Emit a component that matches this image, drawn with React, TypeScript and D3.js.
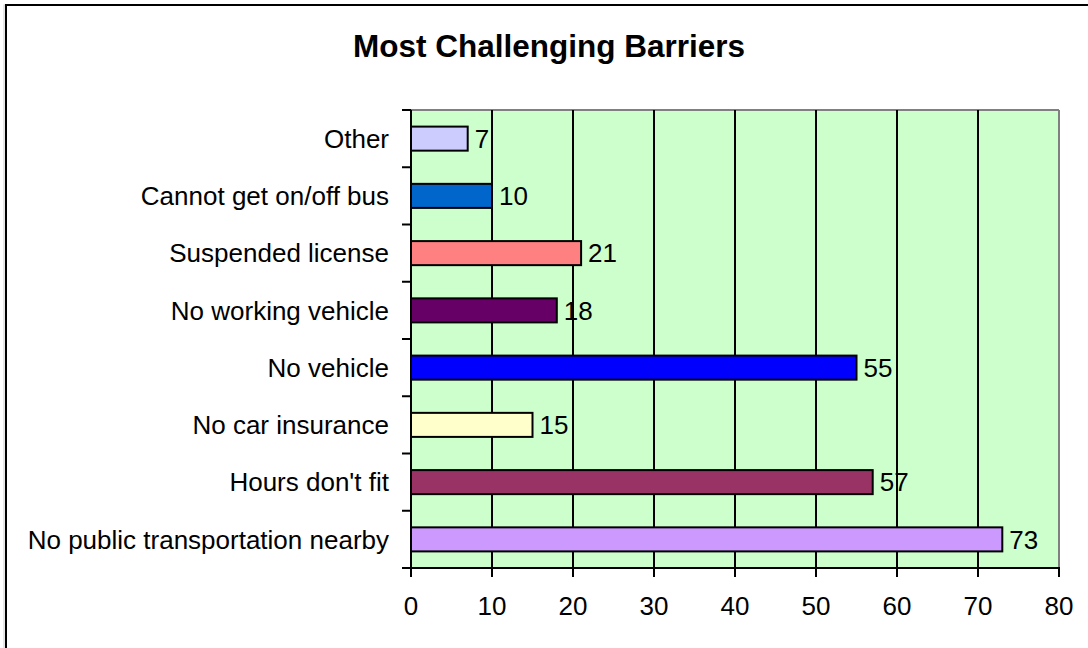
import React from "react";
import * as d3 from "d3";

// chart data, bottom to top as drawn
const categories = [
  "No public transportation nearby",
  "Hours don't fit",
  "No car insurance",
  "No vehicle",
  "No working vehicle",
  "Suspended license",
  "Cannot get on/off bus",
  "Other",
];
const counts = [73, 57, 15, 55, 18, 21, 10, 7];
const barColors = [
  "#CC99FF",
  "#993366",
  "#FFFFCC",
  "#0000FF",
  "#660066",
  "#FF8080",
  "#0066CC",
  "#CCCCFF",
];
const xTicks = [0, 10, 20, 30, 40, 50, 60, 70, 80];

const W = 1088;
const H = 648;
const plot = { left: 411, right: 1059, top: 110, bottom: 568 };
const font = "'Liberation Sans', Arial, sans-serif";
const fs = 26;

export default function App() {
  const x = d3.scaleLinear().domain([0, 80]).range([plot.left, plot.right]);
  // top of chart = last category
  const y = d3
    .scaleBand<string>()
    .domain([...categories].reverse())
    .range([plot.top, plot.bottom])
    .paddingInner(0.58)
    .paddingOuter(0.29);
  const band = (plot.bottom - plot.top) / categories.length;
  const bandEdges = d3.range(categories.length + 1).map((i) => plot.top + i * band);

  return (
    <svg
      width={W}
      height={H}
      style={{ position: "absolute", left: 0, top: 0, background: "#fff" }}
    >
      {/* outer chart border, runs off the right/bottom */}
      <rect x={4} y={5} width={W + 20} height={H + 20} fill="none" stroke="#d0d0d0" strokeWidth={1} />
      <rect x={6} y={5} width={W + 20} height={H + 20} fill="none" stroke="#000" strokeWidth={2} />

      <text
        x={549}
        y={57}
        textAnchor="middle"
        fontFamily={font}
        fontWeight="bold"
        fontSize={31.5}
      >
        Most Challenging Barriers
      </text>

      {/* plot area */}
      <rect
        x={plot.left}
        y={plot.top}
        width={plot.right - plot.left}
        height={plot.bottom - plot.top}
        fill="#CCFFCC"
      />
      <line x1={plot.left} x2={plot.right} y1={plot.top} y2={plot.top} stroke="#808080" strokeWidth={2} />
      <line x1={plot.right} x2={plot.right} y1={plot.top} y2={plot.bottom} stroke="#808080" strokeWidth={2} />

      {xTicks.slice(1, -1).map((t) => (
        <line key={t} x1={x(t)} x2={x(t)} y1={plot.top} y2={plot.bottom} stroke="#000" strokeWidth={2} />
      ))}

      {categories.map((c, i) => (
        <g key={c}>
          <rect
            x={x(0)}
            y={y(c)}
            width={x(counts[i]) - x(0)}
            height={y.bandwidth()}
            fill={barColors[i]}
            stroke="#000"
            strokeWidth={2}
          />
          <text
            x={x(counts[i]) + 7}
            y={(y(c) as number) + y.bandwidth() / 2}
            dy="0.36em"
            fontFamily={font}
            fontSize={fs}
          >
            {counts[i]}
          </text>
          <text
            x={389}
            y={(y(c) as number) + y.bandwidth() / 2}
            dy="0.36em"
            textAnchor="end"
            fontFamily={font}
            fontSize={fs}
          >
            {c}
          </text>
        </g>
      ))}

      {/* axes */}
      <line x1={plot.left} x2={plot.left} y1={plot.top} y2={plot.bottom + 1} stroke="#000" strokeWidth={2} />
      <line x1={plot.left - 9} x2={plot.right + 1} y1={plot.bottom} y2={plot.bottom} stroke="#000" strokeWidth={2} />
      {bandEdges.map((v, i) => (
        <line key={i} x1={plot.left - 9} x2={plot.left} y1={v} y2={v} stroke="#000" strokeWidth={2} />
      ))}
      {xTicks.map((t) => (
        <g key={t}>
          <line x1={x(t)} x2={x(t)} y1={plot.bottom} y2={plot.bottom + 9} stroke="#000" strokeWidth={2} />
          <text
            x={x(t)}
            y={615}
            textAnchor="middle"
            fontFamily={font}
            fontSize={fs}
          >
            {t}
          </text>
        </g>
      ))}
    </svg>
  );
}
